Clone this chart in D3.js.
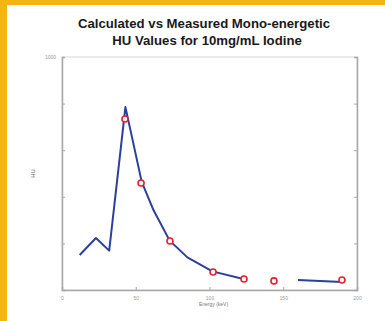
<!DOCTYPE html>
<html>
<head>
<meta charset="utf-8">
<script src="https://cdn.jsdelivr.net/npm/d3@7"></script>
<style>
  body { margin: 0; background: #fff; }
  svg { display: block; font-family: "Liberation Sans", Arial, sans-serif; }
</style>
</head>
<body>
<div id="chart"></div>
<script>
// calculated curve (energy keV, HU); null = gap in the plotted curve
const calcEnergy = [12, 23, 32, 43, 48, 54, 62, 73, 85, 102, 123, 140, 160, 190];
const calcHU     = [150, 223, 169, 785, 640, 465, 343, 212, 140, 80, 47, null, 43, 34];
// measured points
const measEnergy = [42.7, 53.6, 73.2, 102.4, 123.4, 143.7, 189.8];
const measHU     = [734, 459, 210, 77, 47, 39, 43];
const xTicks = [0, 50, 100, 150, 200];
const yTicks = [0, 200, 400, 600, 800, 1000];
const titleLines = ["Calculated vs Measured Mono-energetic", "HU Values for 10mg/mL Iodine"];

const W = 385, H = 321;
const margin = {left: 62, right: 28, top: 57, bottom: 31};

const svg = d3.select("#chart").append("svg")
  .attr("width", W).attr("height", H);

// orange frame edges
svg.append("rect").attr("x", 0).attr("y", 0).attr("width", W).attr("height", 5).attr("fill", "#f6b412");
svg.append("rect").attr("x", 0).attr("y", 0).attr("width", 7).attr("height", H).attr("fill", "#f6b412");

const x = d3.scaleLinear().domain([0, 200]).range([margin.left, W - margin.right]);
const y = d3.scaleLinear().domain([0, 1000]).range([H - margin.bottom, margin.top]);

// box
svg.append("rect")
  .attr("x", x(0)).attr("y", y(1000))
  .attr("width", x(200) - x(0)).attr("height", y(0) - y(1000))
  .attr("fill", "none").attr("stroke", "#d8d8d8").attr("stroke-width", 1);

const axisStyle = g => {
  g.select(".domain").attr("stroke", "#a8a8a8").attr("stroke-width", 1.5);
  g.selectAll(".tick line").attr("stroke", "#a8a8a8");
  g.selectAll(".tick text").attr("fill", "#999").attr("font-size", 5);
};

svg.append("g")
  .attr("transform", `translate(0,${y(0)})`)
  .call(d3.axisBottom(x).tickValues(xTicks).tickSize(-3).tickPadding(6))
  .call(axisStyle);

svg.append("g")
  .attr("transform", `translate(${x(0)},0)`)
  .call(d3.axisLeft(y).tickValues(yTicks).tickSize(-3).tickPadding(6)
    .tickFormat(d => d === 1000 ? "1000" : ""))
  .call(axisStyle);

svg.append("g")
  .attr("transform", `translate(${x(200)},0)`)
  .call(d3.axisRight(y).tickValues(yTicks).tickSize(-3).tickFormat(""))
  .call(axisStyle);

// calculated line
const line = d3.line()
  .defined(d => d[1] !== null)
  .x(d => x(d[0])).y(d => y(d[1]));
svg.append("path")
  .datum(d3.zip(calcEnergy, calcHU))
  .attr("d", line)
  .attr("fill", "none")
  .attr("stroke", "#2c3f9c")
  .attr("stroke-width", 2)
  .attr("stroke-linejoin", "round");

// measured markers
svg.selectAll("circle.meas")
  .data(d3.zip(measEnergy, measHU))
  .enter().append("circle")
  .attr("class", "meas")
  .attr("cx", d => x(d[0])).attr("cy", d => y(d[1]))
  .attr("r", 3)
  .attr("fill", "#fff")
  .attr("stroke", "#e4202c")
  .attr("stroke-width", 1.6);

// title
svg.append("text")
  .attr("text-anchor", "middle")
  .attr("font-size", 13.2).attr("font-weight", "bold").attr("fill", "#1a1a1a")
  .selectAll("tspan").data(titleLines).enter().append("tspan")
  .attr("x", (d, i) => i === 0 ? 204 : 207)
  .attr("y", (d, i) => 28 + i * 16.5)
  .text(d => d);

// axis labels
svg.append("text")
  .attr("x", (x(0) + x(200)) / 2 + 4).attr("y", 306)
  .attr("text-anchor", "middle")
  .attr("font-size", 5).attr("fill", "#777")
  .text("Energy (keV)");

svg.append("text")
  .attr("transform", `translate(35,${(y(0) + y(1000)) / 2}) rotate(-90)`)
  .attr("text-anchor", "middle")
  .attr("font-size", 6).attr("fill", "#555")
  .text("HU");
</script>
</body>
</html>
